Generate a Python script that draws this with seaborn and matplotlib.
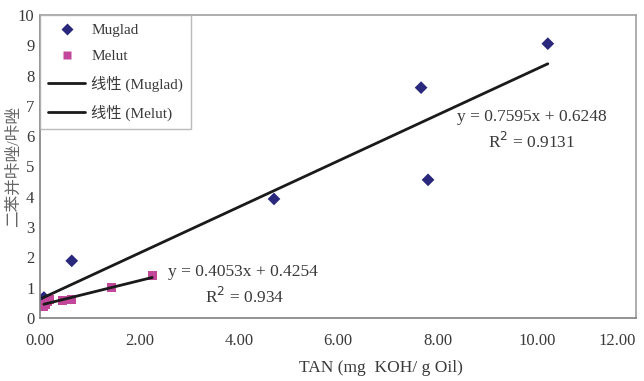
import numpy as np
import pandas as pd
import matplotlib
matplotlib.use('Agg')
import matplotlib.pyplot as plt
import seaborn as sns
from matplotlib.lines import Line2D

# Data
muglad_tan = [0.05, 0.08, 0.64, 4.71, 7.67, 7.81, 10.22]
muglad_ratio = [0.62, 0.68, 1.89, 3.93, 7.60, 4.56, 9.05]
melut_tan = [0.08, 0.12, 0.15, 0.20, 0.46, 0.64, 1.44, 2.26]
melut_ratio = [0.38, 0.46, 0.55, 0.60, 0.58, 0.63, 1.02, 1.42]

# Trend line coefficients as printed on the chart
fit_slope = {'Muglad': 0.7595, 'Melut': 0.4053}
fit_intercept = {'Muglad': 0.6248, 'Melut': 0.4254}
fit_r2 = {'Muglad': '0.9131', 'Melut': '0.934'}

x_ticks = [0, 2, 4, 6, 8, 10, 12]
y_ticks = list(range(0, 11))

points = pd.DataFrame({
    'tan': muglad_tan + melut_tan,
    'ratio': muglad_ratio + melut_ratio,
    'oil': ['Muglad'] * len(muglad_tan) + ['Melut'] * len(melut_tan),
})

sns.set_theme(style='white')
plt.rcParams['font.family'] = ['Liberation Serif', 'Noto Sans CJK SC']
plt.rcParams['axes.unicode_minus'] = False

colors = {'Muglad': '#29287c', 'Melut': '#c2479b'}
markers = {'Muglad': 'D', 'Melut': 's'}
text_color = '#3a3a3a'

fig = plt.figure(figsize=(6.44, 3.81), dpi=100)
ax = fig.add_axes([0.062, 0.165, 0.926, 0.796])

# trend lines, drawn over the span of each series
for oil in ['Muglad', 'Melut']:
    xs = points.loc[points['oil'] == oil, 'tan']
    line_x = np.array([xs.min(), xs.max()])
    line_y = fit_slope[oil] * line_x + fit_intercept[oil]
    sns.lineplot(x=line_x, y=line_y, color='#1a1a1a', linewidth=2, ax=ax, zorder=3)

sns.scatterplot(data=points, x='tan', y='ratio', hue='oil', style='oil',
                palette=colors, markers=markers, s=42, edgecolor='none',
                legend=False, ax=ax, zorder=2)

ax.set_xlim(0, 12)
ax.set_ylim(0, 10)
ax.set_xticks(x_ticks)
ax.set_xticklabels([f'{t:.2f}' for t in x_ticks])
ax.get_xticklabels()[-1].set_ha('right')  # last label sits at the figure edge
ax.set_yticks(y_ticks)
ax.tick_params(axis='both', direction='in', length=3, color='#999999',
               labelsize=12, labelcolor=text_color)
ax.tick_params(axis='x', pad=11)
ax.tick_params(axis='y', pad=4)
for side, sp in ax.spines.items():
    sp.set_color('#a0a0a0' if side in ('top', 'right') else '#808080')
    sp.set_linewidth(1.2)
ax.set_xlabel('TAN (mg  KOH/ g Oil)', fontsize=12.5, color=text_color)
ax.xaxis.set_label_coords(0.572, -0.138)
ax.set_ylabel('二苯并咔唑/咔唑', fontsize=12, color='#666666')
ax.yaxis.set_label_coords(-0.031, 0.5)

# equations
ax.text(9.9, 6.63, f"y = {fit_slope['Muglad']}x + {fit_intercept['Muglad']}",
        ha='center', va='center', fontsize=12.5, color=text_color)
ax.text(9.9, 5.81, f"R$^2$ = {fit_r2['Muglad']}",
        ha='center', va='center', fontsize=12.5, color=text_color)
ax.text(4.08, 1.52, f"y = {fit_slope['Melut']}x + {fit_intercept['Melut']}",
        ha='center', va='center', fontsize=12.5, color=text_color)
ax.text(4.12, 0.69, f"R$^2$ = {fit_r2['Melut']}",
        ha='center', va='center', fontsize=12.5, color=text_color)

handles = [
    Line2D([], [], marker='D', color='none', markerfacecolor=colors['Muglad'],
           markeredgecolor='none', markersize=6),
    Line2D([], [], marker='s', color='none', markerfacecolor=colors['Melut'],
           markeredgecolor='none', markersize=6),
    Line2D([], [], color='#1a1a1a', linewidth=2),
    Line2D([], [], color='#1a1a1a', linewidth=2),
]
labels = ['Muglad', 'Melut', '线性 (Muglad)', '线性 (Melut)']
leg = ax.legend(handles, labels, loc='upper left', bbox_to_anchor=(0, 1),
                borderaxespad=0, fontsize=11, frameon=True, fancybox=False,
                edgecolor='#aaaaaa', labelspacing=0.82, handlelength=2.4,
                handletextpad=0.4, borderpad=0.55)
for t in leg.get_texts():
    t.set_color(text_color)

fig.savefig('out.png', dpi=100)
